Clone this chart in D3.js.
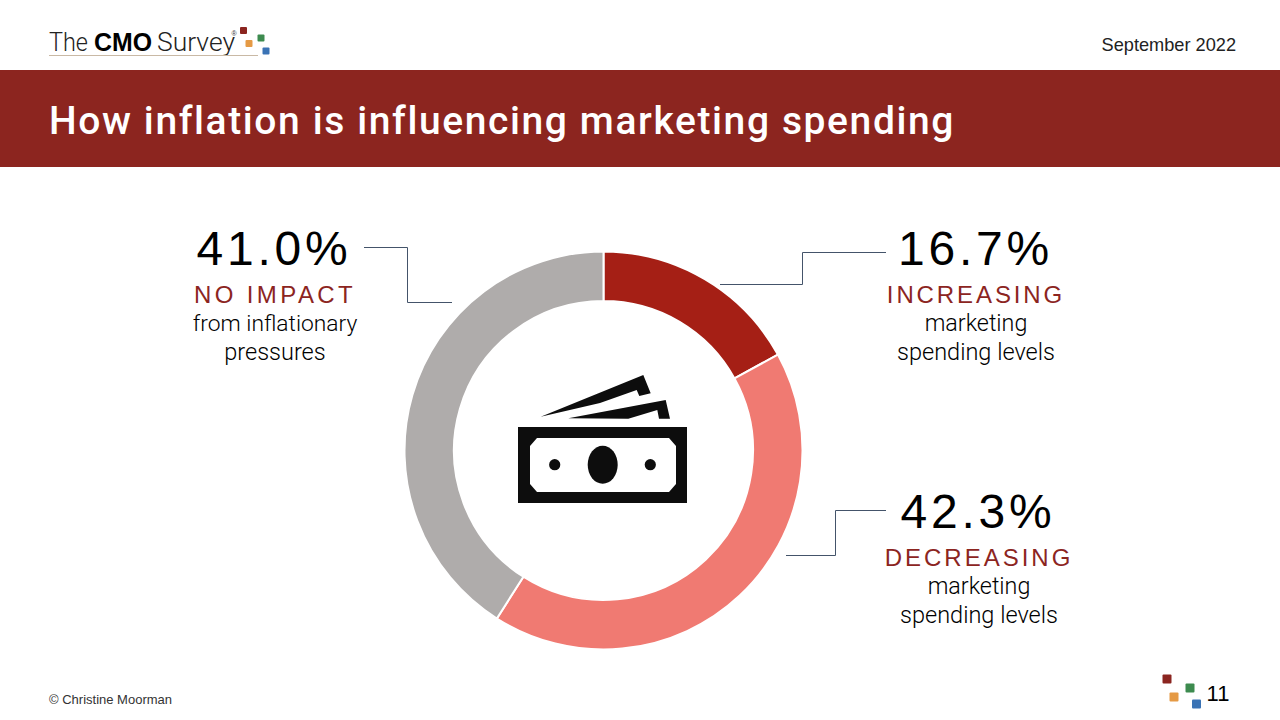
<!DOCTYPE html>
<html><head><meta charset="utf-8">
<script src="https://cdn.jsdelivr.net/npm/d3@7/dist/d3.min.js"></script>
<style>html,body{margin:0;padding:0;background:#fff;overflow:hidden}svg{display:block}text{font-family:"Liberation Sans",sans-serif}</style>
</head><body><svg id="c" width="1280" height="720"></svg>
<script>
const categories=["INCREASING","DECREASING","NO IMPACT"];
const values=[16.7,42.3,41.0];
const labels=["16.7%","42.3%","41.0%"];
const subLines=[["marketing","spending levels"],["marketing","spending levels"],["from inflationary","pressures"]];
const subSizes=[[23.3,23.5],[23.3,23.5],[22.8,23.5]];
const colors=["#A51F15","#F07A72","#AFACAB"];
const labelX=[976,979,275];
const valueX=[975.5,978,274];
const valueBase=[265,528,265];
const catSpacing=[2.9,3.0,3.4];
const leaders=[
 [[886,252.5],[802.5,252.5],[802.5,284.5],[720,284.5]],
 [[886,510.5],[835.5,510.5],[835.5,555.5],[786,555.5]],
 [[364,247.5],[407.5,247.5],[407.5,302.5],[452,302.5]]];
const title="How inflation is influencing marketing spending";
const dateText="September 2022", footer="© Christine Moorman", pageNo="11";
const squares=["#8B2520","#E59A45","#3D8B4F","#3A73B5"];

const svg=d3.select("#c");
svg.append("rect").attr("x",0).attr("y",70).attr("width",1280).attr("height",97).attr("fill","#8C251F");
svg.append("text").attr("x",49).attr("y",134).attr("fill","#fff").style("font-family","Roboto").style("font-size","39px").style("font-weight",500).style("letter-spacing","1.6px").text(title);
svg.append("text").attr("x",1236).attr("y",51).attr("text-anchor","end").style("font-size","18.2px").attr("fill","#222").text(dateText);
svg.append("text").attr("x",49).attr("y",704).style("font-size","13px").attr("fill","#333").text(footer);
svg.append("text").attr("x",1218).attr("y",701).attr("text-anchor","middle").style("font-size","22px").attr("fill","#000").text(pageNo);

// logo
const logo=svg.append("g");
const logoWords=[["The",49,"Roboto",300,39],["CMO",94,"Liberation Sans",700,58],["Survey",157,"Roboto",300,78]];
logoWords.forEach(w=>logo.append("text").attr("x",w[1]).attr("y",51).attr("fill",w[3]==700?"#000":"#222").style("font-family",w[2]).style("font-weight",w[3]).style("font-size","25px").attr("textLength",w[4]).attr("lengthAdjust","spacingAndGlyphs").text(w[0]));
logo.append("text").attr("x",231.5).attr("y",36).style("font-size","7px").attr("fill","#333").text("®");
logo.append("line").attr("x1",49).attr("x2",258).attr("y1",55.5).attr("y2",55.5).attr("stroke","#c9b9a5").attr("stroke-width",1);
const sq=(g,pts,s)=>g.selectAll(null).data(pts).join("rect").attr("x",d=>d[0]-s/2).attr("y",d=>d[1]-s/2).attr("width",s).attr("height",s).attr("rx",1).attr("fill",(d,i)=>squares[i]);
sq(logo,[[243.5,30.5],[249,43.5],[261,38],[266,51]],7);
sq(svg.append("g"),[[1167,679],[1174,697],[1190,688],[1196.5,704]],9);

// donut: the reference's ring is proportioned to the whole-number shares
const pie=d3.pie().sort(null).value(d=>Math.round(d));
const arc=d3.arc().innerRadius(149.5).outerRadius(199);
const cx=603.5,cy=450.5;
svg.append("g").attr("transform",`translate(${cx},${cy})`).selectAll("path").data(pie(values)).join("path")
 .attr("d",arc).attr("fill",(d,i)=>colors[i]).attr("stroke","#fff").attr("stroke-width",2);

// leaders
const ln=d3.line();
svg.append("g").selectAll("path").data(leaders).join("path").attr("d",d=>ln(d)).attr("fill","none").attr("stroke","#44546A").attr("stroke-width",1);

// labels
categories.forEach((c,i)=>{
 const x=labelX[i],b=valueBase[i];
 svg.append("text").attr("x",valueX[i]).attr("y",b).attr("text-anchor","middle").style("font-size","48px").style("letter-spacing","3.8px").attr("fill","#000").text(labels[i]);
 svg.append("text").attr("x",x).attr("y",b+38).attr("text-anchor","middle").style("font-size","24px").style("letter-spacing",catSpacing[i]+"px").attr("fill","#8C251F").text(c);
 subLines[i].forEach((s,j)=>svg.append("text").attr("x",x).attr("y",b+66+j*29).attr("text-anchor","middle").style("font-family","Roboto").style("font-weight",300).style("font-size",subSizes[i][j]+"px").attr("fill","#000").text(s));
});

// money icon
const ic=svg.append("g").attr("fill","#0d0d0d");
ic.append("path").attr("d","M518,427H687V503H518Z");
ic.append("path").attr("fill","#fff").attr("d","M537,438H669L676,446V484L669,492H537L530,484V446Z");
ic.append("ellipse").attr("cx",602.7).attr("cy",464.7).attr("rx",15).attr("ry",19);
ic.append("circle").attr("cx",554.7).attr("cy",464.7).attr("r",5.6);
ic.append("circle").attr("cx",650.3).attr("cy",464.7).attr("r",5.6);
ic.append("path").attr("d","M540.7,416.7L643.3,375L650.7,393.3L639.3,396L636.7,390L600,403Z");
ic.append("path").attr("d","M568.3,418.3L665.7,400L670,418.7L659,418.7L657.3,410L628.3,418.7Z");
</script></body></html>
